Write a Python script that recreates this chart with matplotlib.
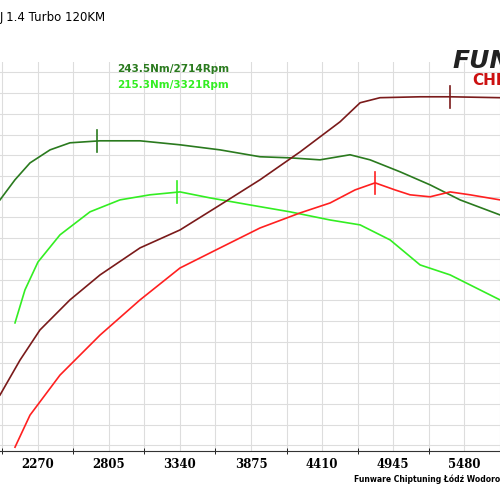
import matplotlib
matplotlib.use("Agg")
import matplotlib.pyplot as plt
import numpy as np

dg_rpm = [1984,2097,2210,2361,2511,2738,3039,3340,3642,3943,4169,4395,4621,4772,4998,5224,5450,5751]
dg_nm  = [210.9,222.0,231.3,238.5,242.4,243.5,243.5,241.3,238.5,234.7,234.1,233.0,235.8,233.0,226.4,219.2,210.9,202.6]
lg_rpm = [2097,2172,2270,2436,2662,2888,3114,3340,3566,3868,4169,4471,4697,4923,5149,5375,5601,5751]
lg_nm  = [143.0,161.2,176.6,191.6,204.3,210.9,213.7,215.3,212.0,208.1,204.3,199.8,197.1,188.8,175.0,169.5,161.2,155.7]
dr_rpm = [1984,2135,2285,2511,2738,3039,3340,3642,3943,4245,4546,4697,4847,5149,5375,5751]
dr_nm  = [103.2,122.5,139.1,155.7,169.5,184.4,194.3,208.1,222.0,237.4,254.0,264.5,267.3,267.8,267.8,267.3]
r_rpm  = [2097,2210,2436,2738,3039,3340,3642,3943,4245,4471,4659,4810,4960,5073,5224,5375,5525,5751]
r_nm   = [74.4,92.1,114.2,136.3,155.7,173.3,184.4,195.4,203.7,209.2,216.4,220.3,216.4,213.7,212.6,215.3,213.7,210.9]
xticks = [2270,2805,3340,3875,4410,4945,5480]
peaks = [(2714,243.5,"#2a7a1e"),(3321,215.3,"#33ee22"),(5375,267.8,"#7a1a1a"),(4810,220.3,"#ff2020")]

fig = plt.figure(figsize=(5,5), dpi=100)
ax = fig.add_axes([0,0.098,1,0.778])
ax.set_xlim(1984,5751); ax.set_ylim(72.3,287)
for v in np.arange(2270-267.5,5800,267.5):
    ax.axvline(v,color="#dddddd",lw=0.8,zorder=0)
for h in np.arange(281.3,70,-11.44):
    ax.axhline(h,color="#dddddd",lw=0.8,zorder=0)
ax.plot(dg_rpm,dg_nm,color="#2a7a1e",lw=1.2)
ax.plot(lg_rpm,lg_nm,color="#33ee22",lw=1.2)
ax.plot(dr_rpm,dr_nm,color="#7a1a1a",lw=1.2)
ax.plot(r_rpm,r_nm,color="#ff2020",lw=1.2)
for x,y,c in peaks:
    ax.plot([x,x],[y-6,y+6],color=c,lw=1.2)
for s in ["top","left","right"]:
    ax.spines[s].set_visible(False)
ax.spines["bottom"].set_color("#333333")
ax.set_xticks(xticks)
ax.set_xticks(np.arange(2270-267.5,5800,535), minor=True)
ax.tick_params(axis="x",which="major",length=0,labelsize=8.5,pad=5)
ax.tick_params(axis="x",which="minor",length=5,direction="inout")
for t in ax.get_xticklabels(): t.set_fontweight("bold"); t.set_family("DejaVu Serif")
ax.set_yticks([])
fig.text(0.0,0.965,"J 1.4 Turbo 120KM",fontsize=8.5,ha="left",va="center",family="DejaVu Sans")
fig.text(0.235,0.855,"243.5Nm/2714Rpm",fontsize=7.5,color="#2a7a1e",fontweight="bold")
fig.text(0.235,0.825,"215.3Nm/3321Rpm",fontsize=7.5,color="#33ee22",fontweight="bold")
fig.text(1.0,0.035,"Funware Chiptuning Łódź Wodoro",fontsize=5.5,ha="right",fontweight="bold")
fig.text(0.905,0.865,"FUN",fontsize=18,fontweight="bold",style="italic",color="#222222")
fig.text(0.945,0.83,"CHI",fontsize=11,fontweight="bold",color="#cc1111")
fig.savefig("out.png",dpi=100)
